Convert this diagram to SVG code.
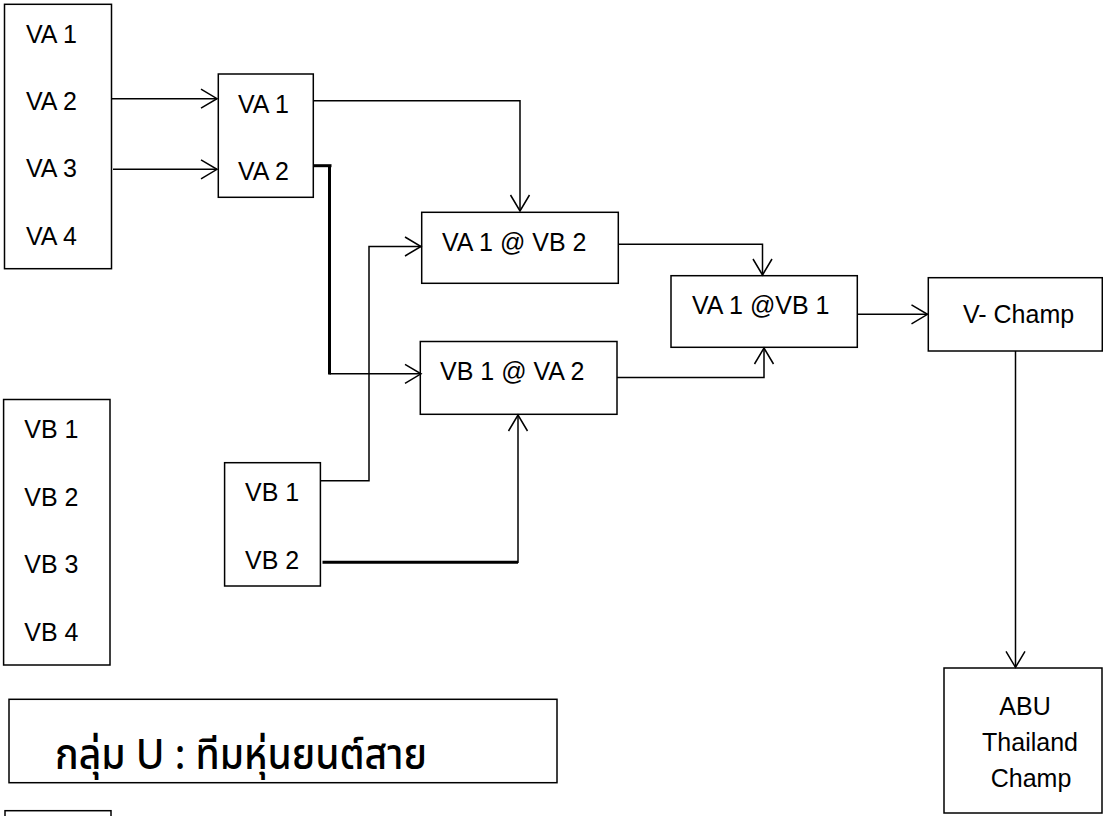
<svg xmlns="http://www.w3.org/2000/svg" width="1103" height="816" viewBox="0 0 1103 816">
  <style>
    .box { fill: #ffffff; stroke: #000000; stroke-width: 1.5; }
    .lbl { font-family: "Liberation Sans", Arial, sans-serif; font-size: 25px; fill: #000000; }
    .thai { font-family: "Noto Sans Thai", "Noto Sans Thai UI", "Noto Sans", "Liberation Sans", sans-serif; font-size: 42px; font-weight: 500; fill: #000000; }
    .ln { fill: none; stroke: #000000; stroke-width: 1.5; }
    .thick { fill: none; stroke: #000000; stroke-width: 3; }
  </style>
  <defs>
    <marker id="arr" markerUnits="userSpaceOnUse" markerWidth="22" markerHeight="26" viewBox="-19 -13 22 26" refX="0" refY="0" orient="auto">
      <path d="M-16,-9.5 L0,0 L-16,9.5" fill="none" stroke="#000000" stroke-width="1.5"/>
    </marker>
  </defs>
  <rect x="0" y="0" width="1103" height="816" fill="#ffffff"/>

  <g id="va-group">
    <rect class="box" x="4.5" y="4.3" width="107" height="264.4"/>
    <text class="lbl" x="26" y="43">VA 1</text>
    <text class="lbl" x="26" y="110">VA 2</text>
    <text class="lbl" x="26" y="177">VA 3</text>
    <text class="lbl" x="26" y="245">VA 4</text>
  </g>

  <g id="va-semi">
    <rect class="box" x="218.3" y="74" width="95" height="123.3"/>
    <text class="lbl" x="238" y="113">VA 1</text>
    <text class="lbl" x="238" y="180">VA 2</text>
  </g>

  <g id="va1-vb2">
    <rect class="box" x="421.7" y="212.3" width="196.6" height="71"/>
    <text class="lbl" x="442" y="251">VA 1 @ VB 2</text>
  </g>

  <g id="vb1-va2">
    <rect class="box" x="420.3" y="341.5" width="196.7" height="72.8"/>
    <text class="lbl" x="440" y="380">VB 1 @ VA 2</text>
  </g>

  <g id="va1-vb1">
    <rect class="box" x="671" y="275.7" width="186.3" height="71.6"/>
    <text class="lbl" x="692" y="314">VA 1 @VB 1</text>
  </g>

  <g id="v-champ">
    <rect class="box" x="928.3" y="277.7" width="174" height="73.3"/>
    <text class="lbl" x="963" y="323">V- Champ</text>
  </g>

  <g id="vb-group">
    <rect class="box" x="3.6" y="399.5" width="106.4" height="265.5"/>
    <text class="lbl" x="24.3" y="438">VB 1</text>
    <text class="lbl" x="24.3" y="506">VB 2</text>
    <text class="lbl" x="24.3" y="573">VB 3</text>
    <text class="lbl" x="24.3" y="641">VB 4</text>
  </g>

  <g id="vb-semi">
    <rect class="box" x="224.6" y="462.7" width="95.8" height="123.3"/>
    <text class="lbl" x="245" y="501">VB 1</text>
    <text class="lbl" x="245" y="569">VB 2</text>
  </g>

  <g id="title">
    <rect class="box" x="9" y="699.3" width="548" height="83.4"/>
    <text class="thai" x="55" y="769" textLength="372" lengthAdjust="spacingAndGlyphs">กลุ่ม U : ทีมหุ่นยนต์สาย</text>
  </g>

  <g id="abu-champ">
    <rect class="box" x="944" y="668" width="158" height="145"/>
    <text class="lbl" x="1025" y="715" text-anchor="middle">ABU</text>
    <text class="lbl" x="1030" y="751" text-anchor="middle">Thailand</text>
    <text class="lbl" x="1031" y="787" text-anchor="middle">Champ</text>
  </g>

  <g id="small-box">
    <rect class="box" x="5" y="810.7" width="106" height="20"/>
  </g>

  <g id="connectors">
    <line class="ln" x1="111.5" y1="98.7" x2="217" y2="98.7" marker-end="url(#arr)"/>
    <line class="ln" x1="113" y1="169.3" x2="217" y2="169.3" marker-end="url(#arr)"/>
    <path class="ln" d="M313.3,100.7 H520 V211" marker-end="url(#arr)"/>
    <path class="thick" d="M313.3,165.7 H331.5"/>
    <path class="thick" d="M329.5,165.7 V374.5"/>
    <path class="ln" d="M329.5,373.8 H421" marker-end="url(#arr)"/>
    <path class="ln" d="M320.4,480.7 H369 V246.5 H421" marker-end="url(#arr)"/>
    <path class="thick" d="M322.5,562.3 H518"/>
    <path class="ln" d="M518,563 V415" marker-end="url(#arr)"/>
    <path class="ln" d="M618.3,244.3 H762.5 V275" marker-end="url(#arr)"/>
    <path class="ln" d="M617,377.5 H764 V348" marker-end="url(#arr)"/>
    <path class="ln" d="M857.3,314.3 H927.5" marker-end="url(#arr)"/>
    <path class="ln" d="M1015.5,351 V667.3" marker-end="url(#arr)"/>
  </g>
</svg>
